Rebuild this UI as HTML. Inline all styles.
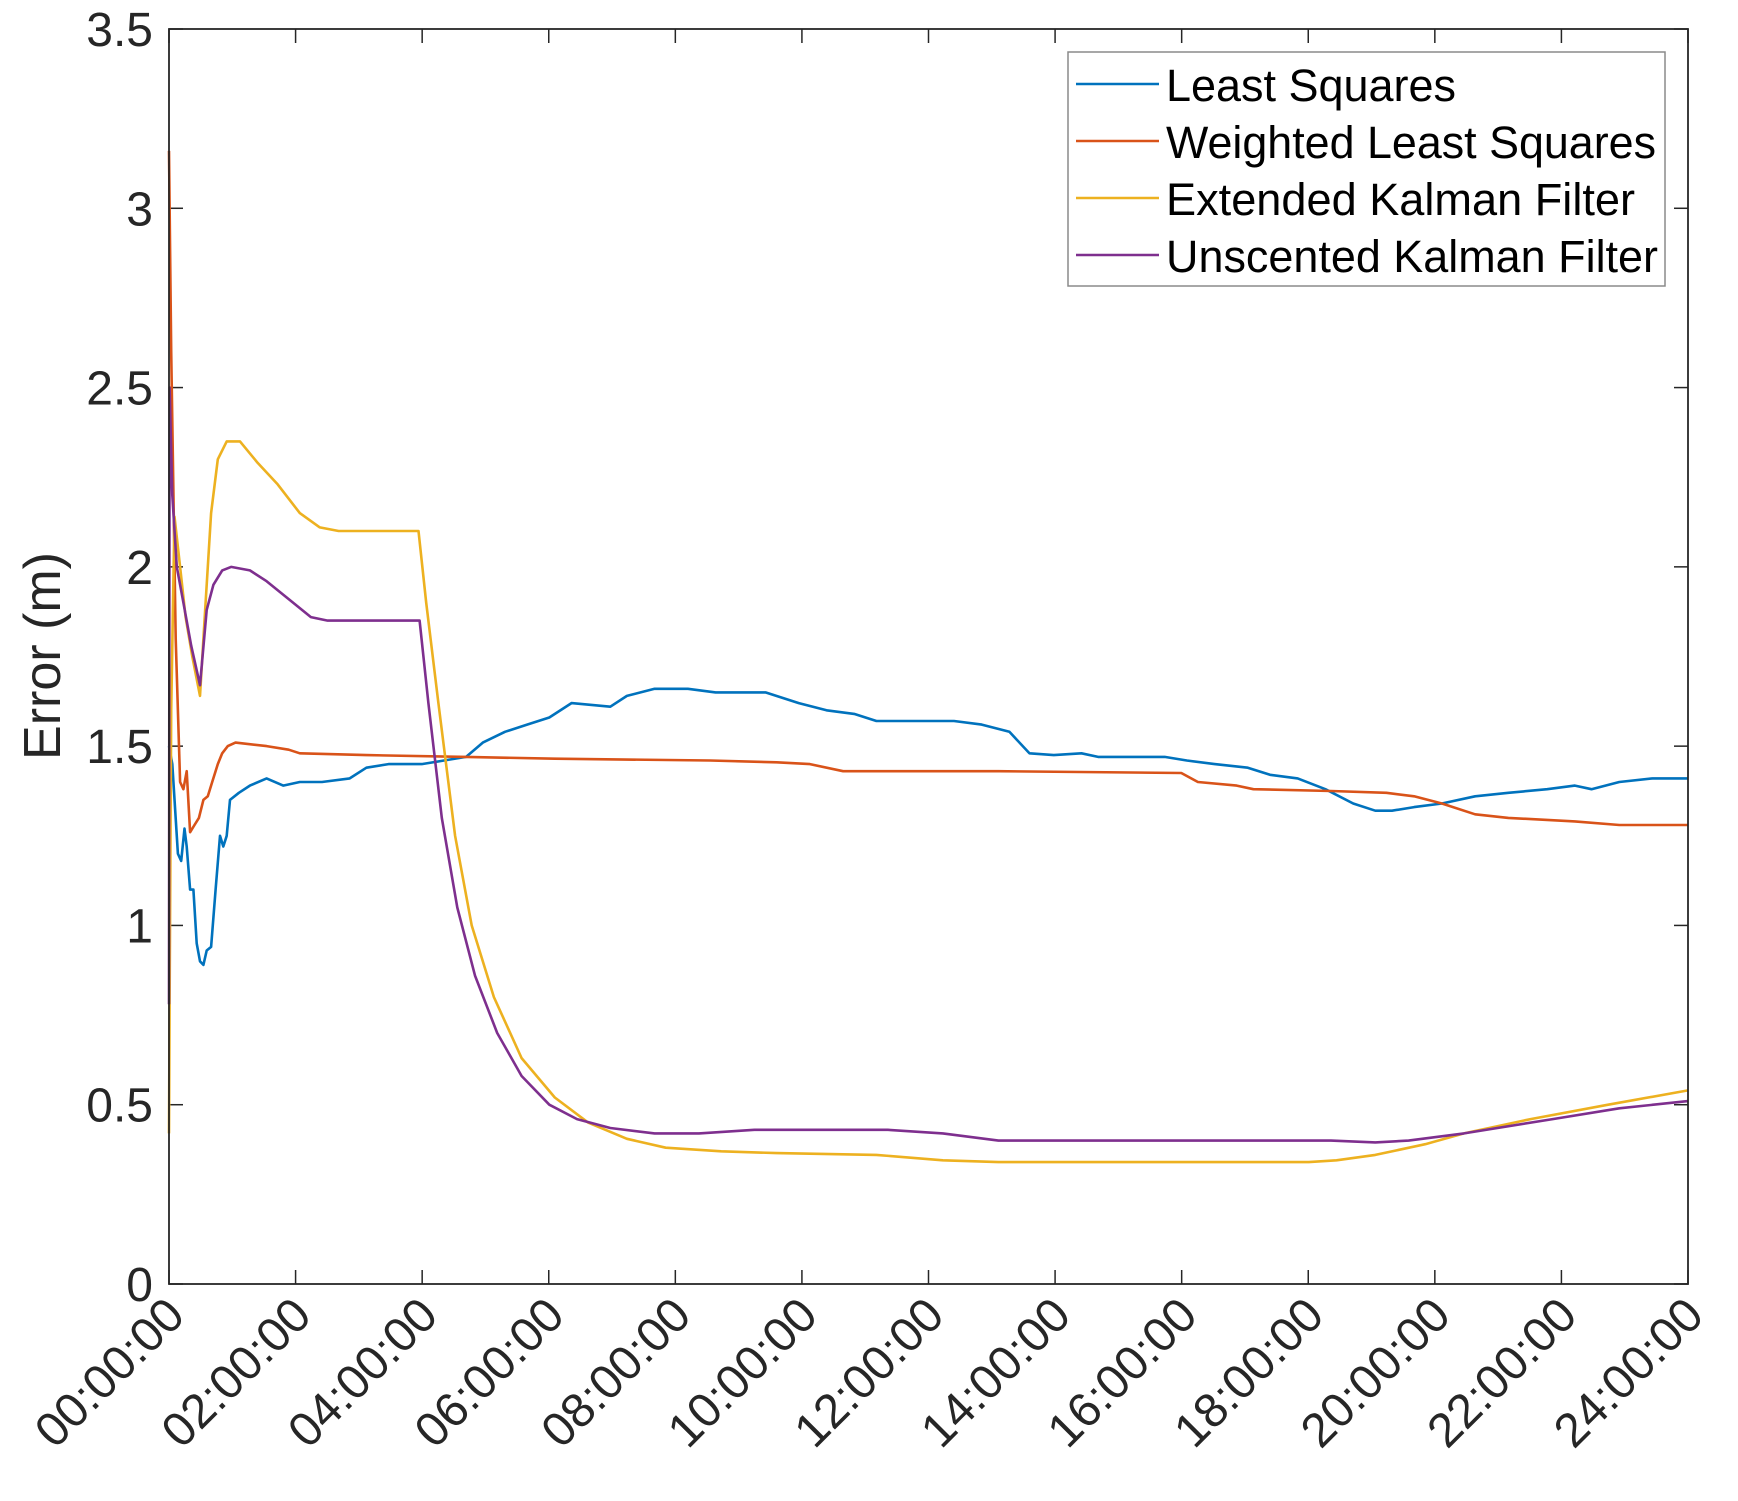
<!DOCTYPE html>
<html><head><meta charset="utf-8"><style>html,body{margin:0;padding:0;background:#fff}svg{display:block}</style></head>
<body>
<svg id="s" width="1738" height="1501" viewBox="0 0 1738 1501" xmlns="http://www.w3.org/2000/svg" font-family="Liberation Sans, Arial, sans-serif">
<rect width="1738" height="1501" fill="#fff"/>
<g id="ticks" stroke="#262626" stroke-width="1.5"></g>
<g id="lab" fill="#262626" font-size="48"></g>
<text x="60" y="656" font-size="52" fill="#262626" text-anchor="middle" transform="rotate(-90 60 656)">Error (m)</text>
<g id="series" fill="none" stroke-width="2.6" stroke-linejoin="round"></g>
<rect x="169" y="29" width="1519" height="1255" fill="none" stroke="#262626" stroke-width="1.8"/>
<rect x="1068" y="52" width="597" height="234" fill="#fff" stroke="#8a8a8a" stroke-width="1.5"/>
<g stroke-width="2.6">
<line x1="1076" y1="84" x2="1159" y2="84" stroke="#0072BD"/>
<line x1="1076" y1="141" x2="1159" y2="141" stroke="#D95319"/>
<line x1="1076" y1="198" x2="1159" y2="198" stroke="#EDB120"/>
<line x1="1076" y1="255" x2="1159" y2="255" stroke="#7E2F8E"/>
</g>
<g font-size="45" fill="#000">
<text x="1166" y="101" textLength="290" lengthAdjust="spacingAndGlyphs">Least Squares</text>
<text x="1166" y="158" textLength="490" lengthAdjust="spacingAndGlyphs">Weighted Least Squares</text>
<text x="1166" y="215" textLength="469" lengthAdjust="spacingAndGlyphs">Extended Kalman Filter</text>
<text x="1166" y="272" textLength="492" lengthAdjust="spacingAndGlyphs">Unscented Kalman Filter</text>
</g>
</svg>
<script>
const NS="http://www.w3.org/2000/svg";
const X=xd=>169+(xd-152)*1519/1370, Y=v=>1284-v*1255/3.5;
function mk(t,a,p){const e=document.createElementNS(NS,t);for(const k in a)e.setAttribute(k,a[k]);p.appendChild(e);return e;}
const tk=document.getElementById('ticks'),lb=document.getElementById('lab');
for(let i=0;i<=12;i++){const x=169+i*1519/12;
 mk('line',{x1:x,y1:1284,x2:x,y2:1270},tk);mk('line',{x1:x,y1:29,x2:x,y2:43},tk);
 const h=String(i*2).padStart(2,'0')+":00:00";
 const t=mk('text',{x:x+18,y:1318,'text-anchor':'end',transform:`rotate(-45 ${x+18} 1318)`},lb);t.textContent=h;}
for(let i=0;i<=7;i++){const v=i*0.5,y=Y(v);
 mk('line',{x1:169,y1:y,x2:183,y2:y},tk);mk('line',{x1:1688,y1:y,x2:1674,y2:y},tk);
 const t=mk('text',{x:153,y:y+17,'text-anchor':'end'},lb);t.textContent=(v===0?'0':String(v));}
const S={
'#0072BD':[[152,1.5],[155,1.45],[160,1.2],[163,1.18],[166,1.27],[168,1.22],[171,1.1],[174,1.1],[177,0.95],[180,0.9],[183,0.89],[186,0.93],[190,0.94],[194,1.1],[198,1.25],[201,1.22],[204,1.25],[207,1.35],[215,1.37],[225,1.39],[240,1.41],[255,1.39],[270,1.4],[290,1.4],[315,1.41],[330,1.44],[350,1.45],[380,1.45],[400,1.46],[420,1.47],[435,1.51],[455,1.54],[475,1.56],[495,1.58],[515,1.62],[550,1.61],[565,1.64],[590,1.66],[620,1.66],[645,1.65],[690,1.65],[720,1.62],[745,1.6],[770,1.59],[790,1.57],[860,1.57],[885,1.56],[910,1.54],[928,1.48],[950,1.475],[975,1.48],[990,1.47],[1050,1.47],[1070,1.46],[1095,1.45],[1125,1.44],[1145,1.42],[1170,1.41],[1195,1.38],[1220,1.34],[1240,1.32],[1255,1.32],[1275,1.33],[1300,1.34],[1330,1.36],[1360,1.37],[1395,1.38],[1420,1.39],[1435,1.38],[1460,1.4],[1490,1.41],[1522,1.41]],
'#D95319':[[152,3.16],[154,2.6],[158,1.8],[162,1.4],[165,1.38],[168,1.43],[171,1.26],[175,1.28],[179,1.3],[183,1.35],[187,1.36],[191,1.4],[196,1.45],[200,1.48],[205,1.5],[212,1.51],[240,1.5],[260,1.49],[270,1.48],[330,1.475],[420,1.47],[500,1.465],[640,1.46],[700,1.455],[730,1.45],[760,1.43],[900,1.43],[1065,1.425],[1080,1.4],[1115,1.39],[1130,1.38],[1200,1.375],[1250,1.37],[1275,1.36],[1300,1.34],[1330,1.31],[1360,1.3],[1420,1.29],[1460,1.28],[1522,1.28]],
'#EDB120':[[152,0.42],[152.5,0.78],[154,1.6],[157,2.14],[162,2.0],[167,1.86],[173,1.75],[180,1.64],[184,1.85],[190,2.15],[196,2.3],[204,2.35],[216,2.35],[232,2.29],[250,2.23],[270,2.15],[288,2.11],[305,2.1],[377,2.1],[384,1.9],[395,1.62],[410,1.25],[425,1.0],[445,0.8],[470,0.63],[500,0.52],[530,0.45],[565,0.405],[600,0.38],[650,0.37],[700,0.365],[790,0.36],[850,0.345],[900,0.34],[1180,0.34],[1205,0.345],[1240,0.36],[1285,0.39],[1320,0.42],[1380,0.46],[1450,0.5],[1522,0.54]],
'#7E2F8E':[[152,0.78],[152.5,2.5],[155,2.2],[159,2.0],[165,1.9],[172,1.78],[180,1.67],[186,1.88],[192,1.95],[200,1.99],[208,2.0],[225,1.99],[240,1.96],[260,1.91],[280,1.86],[295,1.85],[378,1.85],[386,1.62],[398,1.3],[412,1.05],[428,0.86],[448,0.7],[470,0.58],[495,0.5],[520,0.46],[550,0.435],[590,0.42],[630,0.42],[680,0.43],[800,0.43],[850,0.42],[900,0.4],[1200,0.4],[1240,0.395],[1270,0.4],[1320,0.42],[1400,0.46],[1460,0.49],[1522,0.51]]};
const g=document.getElementById('series');
for(const c of ['#0072BD','#D95319','#EDB120','#7E2F8E']){
 mk('polyline',{points:S[c].map(p=>X(p[0]).toFixed(1)+','+Y(p[1]).toFixed(1)).join(' '),stroke:c},g);}
</script>
</body></html>
